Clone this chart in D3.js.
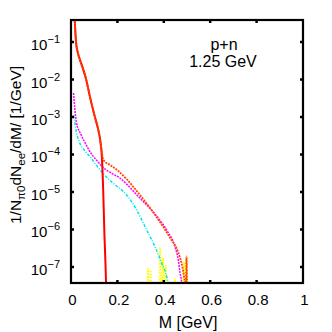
<!DOCTYPE html>
<html><head><meta charset="utf-8">
<script src="https://cdn.jsdelivr.net/npm/d3@7"></script>
<style>body{margin:0;background:#fff}svg{display:block}text{font-family:"Liberation Sans",Arial,sans-serif}</style>
</head><body>
<script>
// x: invariant mass M [GeV], y: log10 of 1/N dN/dM
const xTicks = [0, 0.2, 0.4, 0.6, 0.8, 1];
const yTickExps = [-1, -2, -3, -4, -5, -6, -7];
const redM   = [0.013,0.0216,0.03,0.04,0.052,0.065,0.082,0.103,0.116,0.126,0.133,0.139,0.1435,0.151,0.153];
const redLog = [0,-1,-1.3,-1.5,-1.72,-1.99,-2.47,-3.0,-3.3,-3.62,-4.05,-5.0,-6.01,-7.43,-8];
const totM   = [0.013,0.0216,0.03,0.04,0.052,0.065,0.082,0.103,0.116,0.126,0.133,0.14,0.168,0.2,0.24,0.28,0.31,0.34,0.37,0.40,0.43,0.455,0.47,0.48,0.487,0.491,0.494,0.498,0.501];
const totLog = [0,-1,-1.3,-1.5,-1.72,-1.99,-2.47,-3.0,-3.3,-3.62,-3.95,-4.15,-4.28,-4.42,-4.66,-4.95,-5.18,-5.42,-5.68,-5.95,-6.25,-6.5,-6.75,-7.0,-7.25,-7.45,-8,-6.72,-8];
const pinkM   = [0.011,0.023,0.044,0.066,0.082,0.11,0.139,0.175,0.211,0.24,0.275,0.312,0.35,0.384,0.412,0.448,0.4625,0.47,0.477,0.48];
const pinkLog = [-2.36,-3.13,-3.48,-3.75,-3.93,-4.15,-4.35,-4.5,-4.63,-4.79,-5.02,-5.26,-5.5,-5.76,-6.01,-6.46,-6.81,-7.16,-7.43,-8];
const cyanM   = [0.012,0.023,0.0375,0.06,0.082,0.105,0.132,0.182,0.24,0.283,0.326,0.362,0.391,0.4125,0.418,0.42];
const cyanLog = [-2.95,-3.39,-3.69,-3.9,-4.06,-4.25,-4.46,-4.77,-5.08,-5.48,-6.01,-6.46,-6.9,-7.26,-7.43,-8];
const yelM   = [0.326,0.332,0.337,0.343,0.348,0.38,0.384,0.39,0.397,0.403,0.409,0.414,0.444,0.448,0.452,0.482,0.487,0.492,0.498,0.503];
const yelLog = [-8,-7.03,-8,-7.08,-8,-8,-6.47,-8,-6.76,-8,-6.95,-8,-8,-7.3,-8,-8,-6.87,-8,-6.76,-8];

const W = 332, H = 332;
const L = 71, R = 303, T = 20, B = 283;
const svg = d3.select("body").append("svg").attr("width", W).attr("height", H);
const x = d3.scaleLinear().domain([0, 1]).range([L, R]);
const y = d3.scaleLinear().domain([-7.427, -0.413]).range([B, T]);

svg.append("clipPath").attr("id","clip").append("rect")
  .attr("x", L).attr("y", T).attr("width", R-L).attr("height", B-T);
const g = svg.append("g").attr("clip-path","url(#clip)");
const line = d3.line().x(d => x(d[0])).y(d => y(d[1])).curve(d3.curveMonotoneX);
const lineLin = d3.line().x(d => x(d[0])).y(d => y(d[1]));
const zip = (a,b) => a.map((v,i)=>[v,b[i]]);

g.append("path").datum(zip(yelM,yelLog)).attr("d",lineLin).attr("fill","none")
  .attr("stroke","#ffff00").attr("stroke-width",1.8).attr("stroke-dasharray","1.5,1.5");
g.append("path").datum(zip(cyanM,cyanLog)).attr("d",line).attr("fill","none")
  .attr("stroke","#00e5ee").attr("stroke-width",1.5).attr("stroke-dasharray","3,1.5,1,1.5");
g.append("path").datum(zip(pinkM,pinkLog)).attr("d",line).attr("fill","none")
  .attr("stroke","#ff00ff").attr("stroke-width",1.5).attr("stroke-dasharray","2,1");
g.append("path").datum(zip(redM,redLog)).attr("d",line).attr("fill","none")
  .attr("stroke","#ff0000").attr("stroke-width",2);
g.append("path").datum(zip(totM,totLog)).attr("d",line).attr("fill","none")
  .attr("stroke","#ff4500").attr("stroke-width",1.8).attr("stroke-dasharray","2,1");

// frame
svg.append("rect").attr("x",L).attr("y",T).attr("width",R-L).attr("height",B-T)
  .attr("fill","none").attr("stroke","#000").attr("stroke-width",2.2);

// ticks (inward, all sides)
const tk = 3;
xTicks.slice(1,-1).forEach(v => {
  svg.append("line").attr("x1",x(v)).attr("x2",x(v)).attr("y1",B).attr("y2",B-tk).attr("stroke","#000").attr("stroke-width",2.5);
  svg.append("line").attr("x1",x(v)).attr("x2",x(v)).attr("y1",T).attr("y2",T+tk).attr("stroke","#000").attr("stroke-width",2.5);
});
yTickExps.forEach(e => {
  svg.append("line").attr("x1",L).attr("x2",L+tk).attr("y1",y(e)).attr("y2",y(e)).attr("stroke","#000").attr("stroke-width",2.5);
  svg.append("line").attr("x1",R).attr("x2",R-tk).attr("y1",y(e)).attr("y2",y(e)).attr("stroke","#000").attr("stroke-width",2.5);
});

// x tick labels
xTicks.forEach(v => {
  svg.append("text").attr("x",x(v)+1.5).attr("y",305).attr("text-anchor","middle")
    .attr("font-size",15).text(d3.format("")(v));
});
// y tick labels
yTickExps.forEach(e => {
  const t = svg.append("text").attr("x",60).attr("y",y(e)+8).attr("text-anchor","end").attr("font-size",15);
  t.append("tspan").text("10");
  t.append("tspan").attr("dy",-7).attr("font-size",11).text("\u2212" + (-e));
});

// axis titles
svg.append("text").attr("x",188).attr("y",327.5).attr("text-anchor","middle").attr("font-size",16).text("M [GeV]");
const yl = svg.append("text").attr("transform","translate(21,145) rotate(-90)")
  .attr("text-anchor","middle").attr("font-size",15.5);
yl.append("tspan").text("1/N");
yl.append("tspan").attr("dy",4).attr("font-size",11.5).text("\u03c00");
yl.append("tspan").attr("dy",-4).text("dN");
yl.append("tspan").attr("dy",4).attr("font-size",11.5).text("ee");
yl.append("tspan").attr("dy",-4).text("/dM/ [1/GeV]");

// annotation
svg.append("text").attr("x",224).attr("y",50).attr("text-anchor","middle").attr("font-size",16).text("p+n");
svg.append("text").attr("x",223).attr("y",67).attr("text-anchor","middle").attr("font-size",16).text("1.25 GeV");
</script>
</body></html>
